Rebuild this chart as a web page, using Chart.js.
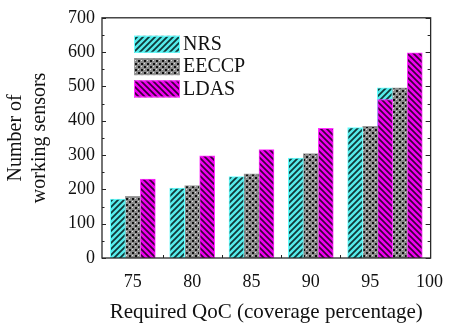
<!DOCTYPE html>
<html>
<head>
<meta charset="utf-8">
<script src="https://cdn.jsdelivr.net/npm/chart.js@4.4.0/dist/chart.umd.min.js"></script>
<style>
  html, body { margin: 0; padding: 0; background: #fff; }
</style>
</head>
<body>
<canvas id="chart" width="456" height="325"></canvas>
<script>
// Data
const coverage = [75, 80, 85, 90, 95, 97.5];   // last group is drawn left of the 100 tick
const nrs   = [172, 204, 237, 291, 380, 496];
const eeccp = [180, 211, 245, 304, 384, 496];
const ldas  = [230, 298, 316, 378, 462, 598];
const xTicks = [75, 80, 85, 90, 95, 100];
const xMinor = [77.5, 82.5, 87.5, 92.5, 97.5];
const yTicks = [0, 100, 200, 300, 400, 500, 600, 700];
const yMinor = [50, 150, 250, 350, 450, 550, 650];

const serif = "'Liberation Serif', 'DejaVu Serif', serif";

function makePattern(kind) {
    const c = document.createElement('canvas');
    const s = 6;
    c.width = s; c.height = s;
    const g = c.getContext('2d');
    if (kind === 'nrs') {
        g.fillStyle = '#55ecec';
        g.fillRect(0, 0, s, s);
        g.strokeStyle = '#103838';
        g.lineWidth = 1.8;
        g.beginPath();
        g.moveTo(-1, s + 1); g.lineTo(s + 1, -1);
        g.moveTo(-1, 1); g.lineTo(1, -1);
        g.moveTo(s - 1, s + 1); g.lineTo(s + 1, s - 1);
        g.stroke();
    } else if (kind === 'ldas') {
        g.fillStyle = '#f000f0';
        g.fillRect(0, 0, s, s);
        g.strokeStyle = '#3a003a';
        g.lineWidth = 1.7;
        g.beginPath();
        g.moveTo(-1, -1); g.lineTo(s + 1, s + 1);
        g.moveTo(s - 1, -1); g.lineTo(s + 1, 1);
        g.moveTo(-1, s - 1); g.lineTo(1, s + 1);
        g.stroke();
    } else {
        g.fillStyle = '#8a8a8a';
        g.fillRect(0, 0, s, s);
        g.fillStyle = '#111';
        g.fillRect(0, 0, 2, 2);
        g.fillRect(3, 3, 2, 2);
        g.fillStyle = '#e0e0e0';
        g.fillRect(3, 0, 1, 1);
        g.fillRect(0, 3, 1, 1);
    }
    return g.createPattern(c, 'repeat');
}

const fills = { nrs: makePattern('nrs'), eeccp: makePattern('eeccp'), ldas: makePattern('ldas') };
const borders = { nrs: '#66ffff', eeccp: '#9a9a9a', ldas: '#ff33ff' };

const firstGroups = vals => coverage.slice(0, 5).map((c, i) => ({ x: c, y: vals[i] }));
const lastGroup = vals => [{ x: coverage[5], y: vals[5] }];

function series(label, key, vals, last) {
    return {
        label: label,
        data: last ? lastGroup(vals) : firstGroups(vals),
        backgroundColor: fills[key],
        borderColor: borders[key],
        borderWidth: 1,
        barThickness: 15,
        stack: key,
        order: last ? 1 : 0,
        inLegend: !last
    };
}

// inward ticks and the frame round the plot
const frame = {
    id: 'frame',
    beforeDatasetsDraw(chart) {
        const { ctx, chartArea: a, scales: { x, y } } = chart;
        ctx.save();
        ctx.strokeStyle = '#222';
        ctx.lineWidth = 1;
        ctx.beginPath();
        yTicks.forEach(v => {
            const py = Math.round(y.getPixelForValue(v)) + 0.5;
            ctx.moveTo(a.left, py); ctx.lineTo(a.left + 4, py);
            ctx.moveTo(a.right, py); ctx.lineTo(a.right - 5, py);
        });
        yMinor.forEach(v => {
            const py = Math.round(y.getPixelForValue(v)) + 0.5;
            ctx.moveTo(a.left, py); ctx.lineTo(a.left + 2.5, py);
            ctx.moveTo(a.right, py); ctx.lineTo(a.right - 3, py);
        });
        xMinor.forEach(v => {
            const px = Math.round(x.getPixelForValue(v)) + 0.5;
            ctx.moveTo(px, a.bottom); ctx.lineTo(px, a.bottom - 3);
        });
        ctx.stroke();
        ctx.restore();
    },
    afterDatasetsDraw(chart) {
        const { ctx, chartArea: a } = chart;
        ctx.save();
        ctx.strokeStyle = '#2a2a2a';
        ctx.lineWidth = 1.3;
        ctx.strokeRect(a.left, a.top, a.right - a.left, a.bottom - a.top);

        // legend in the upper left of the plot
        let row = 0;
        chart.data.datasets.forEach(ds => {
            if (!ds.inLegend) return;
            const bx = a.left + 32, by = a.top + 18 + row * 22.3;
            ctx.fillStyle = ds.backgroundColor;
            ctx.fillRect(bx, by, 46, 17);
            ctx.strokeStyle = ds.borderColor;
            ctx.lineWidth = 1;
            ctx.strokeRect(bx + 0.5, by + 0.5, 45, 16);
            ctx.fillStyle = '#111';
            ctx.font = '20px ' + serif;
            ctx.textBaseline = 'middle';
            ctx.fillText(ds.label, bx + 49, by + 9);
            row++;
        });
        ctx.restore();
    }
};

new Chart(document.getElementById('chart'), {
    type: 'bar',
    data: {
        datasets: [
            series('NRS', 'nrs', nrs, false),
            series('EECCP', 'eeccp', eeccp, false),
            series('LDAS', 'ldas', ldas, false),
            series('NRS', 'nrs', nrs, true),
            series('EECCP', 'eeccp', eeccp, true),
            series('LDAS', 'ldas', ldas, true)
        ]
    },
    options: {
        responsive: false,
        devicePixelRatio: 1,
        animation: false,
        layout: { padding: { top: 15, right: 14, left: 0, bottom: 0 } },
        plugins: {
            legend: { display: false },
            tooltip: { enabled: false }
        },
        scales: {
            x: {
                type: 'linear',
                min: 72.4,
                max: 100.1,
                offset: false,
                afterBuildTicks(s) { s.ticks = xTicks.map(v => ({ value: v })); },
                afterFit(s) { s.height = 67; },
                grid: { display: false, drawTicks: false },
                border: { display: false },
                ticks: { padding: 13, maxRotation: 0, autoSkip: false, color: '#111', font: { family: serif, size: 18 } },
                title: {
                    display: true,
                    text: 'Required QoC (coverage percentage)',
                    color: '#111',
                    font: { family: serif, size: 21, lineHeight: 1.2 },
                    padding: { top: 0, bottom: 0 }
                }
            },
            y: {
                min: 0,
                max: 700,
                stacked: false,
                afterBuildTicks(s) { s.ticks = yTicks.map(v => ({ value: v })); },
                afterFit(s) { s.width = 102; },
                grid: { display: false, drawTicks: false },
                border: { display: false },
                ticks: { padding: 7, color: '#111', font: { family: serif, size: 18 } },
                title: {
                    display: true,
                    text: ['Number of', 'working sensors'],
                    color: '#111',
                    font: { family: serif, size: 20, lineHeight: 1.2 },
                    padding: { top: 4, bottom: 0 }
                }
            }
        }
    },
    plugins: [frame]
});
</script>
</body>
</html>
